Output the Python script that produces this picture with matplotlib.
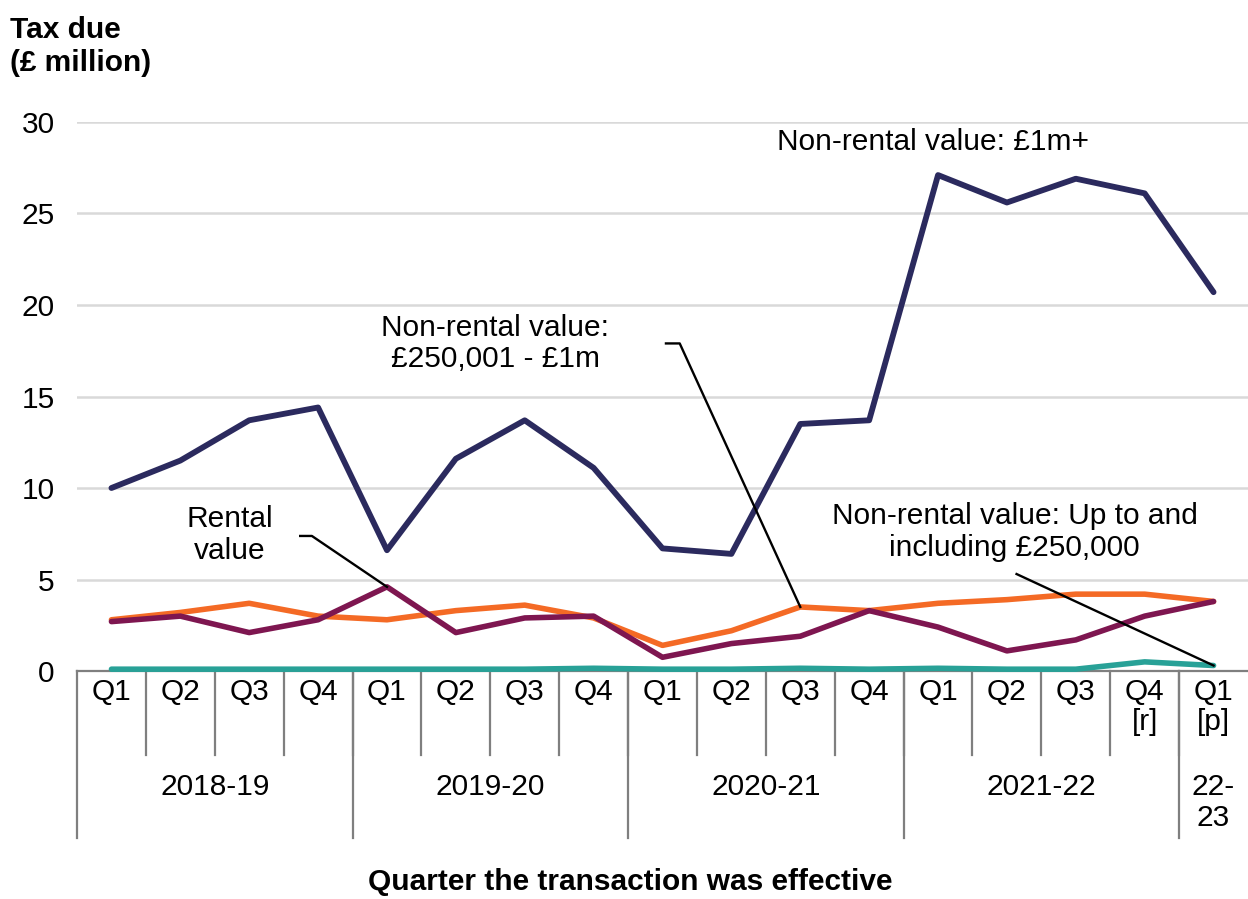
import matplotlib.pyplot as plt

plt.rcParams['font.family'] = ['Liberation Sans', 'DejaVu Sans']

# Quarters and financial years for the two-level category axis
quarters = ['Q1', 'Q2', 'Q3', 'Q4', 'Q1', 'Q2', 'Q3', 'Q4', 'Q1', 'Q2', 'Q3', 'Q4',
            'Q1', 'Q2', 'Q3', 'Q4\n[r]', 'Q1\n[p]']
years = ['2018-19', '2019-20', '2020-21', '2021-22', '22-\n23']
year_lengths = [4, 4, 4, 4, 1]

# Tax due (£ million)
nonrental_1m_plus = [10.0, 11.5, 13.7, 14.4, 6.6, 11.6, 13.7, 11.1, 6.7, 6.4, 13.5, 13.7,
                     27.1, 25.6, 26.9, 26.1, 20.7]
nonrental_250k_1m = [2.8, 3.2, 3.7, 3.0, 2.8, 3.3, 3.6, 2.9, 1.4, 2.2, 3.5, 3.3,
                     3.7, 3.9, 4.2, 4.2, 3.8]
rental = [2.7, 3.0, 2.1, 2.8, 4.6, 2.1, 2.9, 3.0, 0.75, 1.5, 1.9, 3.3,
          2.4, 1.1, 1.7, 3.0, 3.8]
nonrental_up_to_250k = [0.1, 0.1, 0.1, 0.1, 0.1, 0.1, 0.1, 0.15, 0.1, 0.1, 0.15, 0.1,
                        0.15, 0.1, 0.1, 0.5, 0.3]

navy = '#2b2a5e'
orange = '#f46a25'
maroon = '#7e1650'
teal = '#28a197'
fs = 21.5

fig = plt.figure(figsize=(12.48, 8.99), dpi=100)
ax = fig.add_axes([0.0617, 0.2536, 0.9383, 0.6107])

x = list(range(len(quarters)))
ax.plot(x, nonrental_up_to_250k, color=teal, lw=4.0, solid_capstyle='round', zorder=3, clip_on=False)
ax.plot(x, nonrental_250k_1m, color=orange, lw=4.0, solid_capstyle='round', zorder=3)
ax.plot(x, rental, color=maroon, lw=4.0, solid_capstyle='round', zorder=3)
ax.plot(x, nonrental_1m_plus, color=navy, lw=4.2, solid_capstyle='round', zorder=3)

ax.set_xlim(-0.5, len(quarters) - 0.5)
ax.set_ylim(0, 30)
ax.set_yticks(range(0, 31, 5))
ax.tick_params(axis='y', length=0, pad=16, labelsize=fs)
ax.set_xticks([])
ax.grid(axis='y', color='#d9d9d9', lw=1.8)
ax.set_axisbelow(True)
for side in ['top', 'right', 'left']:
    ax.spines[side].set_visible(False)
ax.spines['bottom'].set_color('#7f7f7f')
ax.spines['bottom'].set_linewidth(1.6)

# two-level category axis drawn below the plot
tr = ax.get_xaxis_transform()
for i, q in enumerate(quarters):
    ax.text(i, -0.012, q, transform=tr, ha='center', va='top', fontsize=fs, linespacing=1.1)
    if i > 0:
        ax.plot([i - 0.5, i - 0.5], [0, -0.153], transform=tr, color='#7f7f7f', lw=1.6, clip_on=False)
start = 0
for yr, n in zip(years, year_lengths):
    ax.plot([start - 0.5, start - 0.5], [0, -0.304], transform=tr, color='#7f7f7f', lw=1.6, clip_on=False)
    ax.text(start + (n - 1) / 2, -0.185, yr, transform=tr, ha='center', va='top', fontsize=fs,
            linespacing=1.15)
    start += n

fig.text(0.008, 0.982, 'Tax due\n(£ million)', ha='left', va='top', fontsize=fs,
         fontweight='bold', linespacing=1.2)
fig.text(0.505, 0.003, 'Quarter the transaction was effective', ha='center', va='bottom',
         fontsize=fs, fontweight='bold')

# series labels with leader lines
ax.text(11.92, 28.9, 'Non-rental value: £1m+', ha='center', va='center', fontsize=fs)
ax.text(5.57, 17.9, 'Non-rental value:\n£250,001 - £1m', ha='center', va='center', fontsize=fs,
        linespacing=1.15)
ax.plot([8.05, 8.25, 10], [17.9, 17.9, nonrental_250k_1m[10]], color='black', lw=1.7, zorder=4)
ax.text(1.72, 7.43, 'Rental\nvalue', ha='center', va='center', fontsize=fs, linespacing=1.15)
ax.plot([2.74, 2.91, 4], [7.38, 7.38, rental[4]], color='black', lw=1.7, zorder=4)
ax.text(13.11, 7.6, 'Non-rental value: Up to and\nincluding £250,000', ha='center',
        va='center', fontsize=fs, linespacing=1.15)
ax.plot([13.14, 16], [5.3, nonrental_up_to_250k[16]], color='black', lw=1.7, zorder=4)

fig.savefig('out.png', dpi=100)
